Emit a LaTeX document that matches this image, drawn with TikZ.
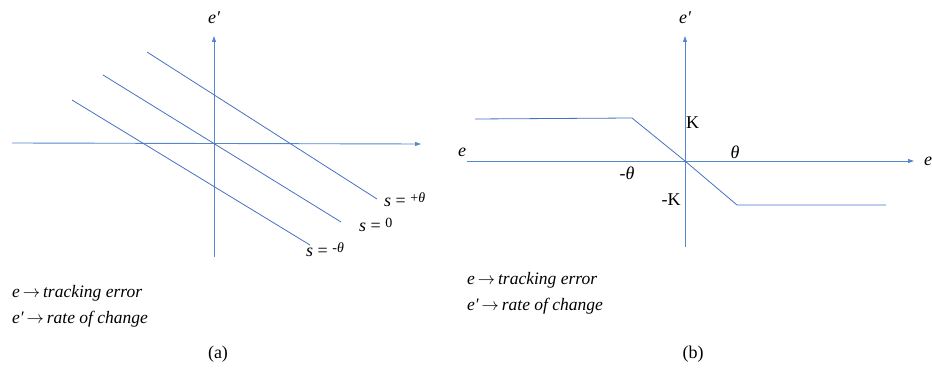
\documentclass[tikz,border=0pt]{standalone}
\usepackage{fontspec}
\setmainfont{Liberation Serif}
\usetikzlibrary{arrows.meta}
\definecolor{axisblue}{RGB}{85,135,205}
\definecolor{lineblue}{RGB}{68,114,196}
\tikzset{
  axis/.style={draw=axisblue, line width=0.9pt, -{Triangle[length=6pt,width=4pt]}},
  sline/.style={draw=lineblue, line width=0.8pt},
  lbl/.style={inner sep=0pt, font=\fontsize{18}{20}\selectfont\itshape},
  rlbl/.style={inner sep=0pt, font=\fontsize{18}{20}\selectfont},
  note/.style={inner sep=0pt, anchor=west, font=\fontsize{17.5}{20}\selectfont\itshape},
}
\newcommand{\supx}[1]{\raisebox{0.6ex}{\fontsize{14}{15}\selectfont #1}}
\newcommand{\myarr}{\,\(\rightarrow\)\,}
\begin{document}
\begin{tikzpicture}[x=1pt,y=-1pt]
\useasboundingbox (0,0) rectangle (932,374);
% ---------- panel (a)
\coordinate (aX0) at (12,143);
\coordinate (aX1) at (421,144);
\coordinate (aY0) at (214,257);
\coordinate (aY1) at (214,36);
\draw[axis] (aX0) -- (aX1);
\draw[axis] (aY0) -- (aY1);
\node[lbl] (aep) at (214,18) {e′};
\coordinate (p1a) at (147,52);  \coordinate (p1b) at (377,199);
\coordinate (p2a) at (103,75);  \coordinate (p2b) at (341,222);
\coordinate (p3a) at (72,100);  \coordinate (p3b) at (310,245);
\draw[sline] (p1a) -- (p1b);
\draw[sline] (p2a) -- (p2b);
\draw[sline] (p3a) -- (p3b);
\node[lbl, anchor=base west] (s1) at (384,207) {s \upshape= \supx{+\itshape θ}};
\node[lbl, anchor=base west] (s2) at (359,232) {s \upshape= \supx{0}};
\node[lbl, anchor=base west] (s3) at (306,257) {s \upshape= \supx{-\itshape θ}};
\node[note] (an1) at (12,293) {e\myarr tracking error};
\node[note] (an2) at (12,319) {e′\myarr rate of change};
\node[rlbl] (acap) at (218,354) {(a)};
% ---------- panel (b)
\coordinate (bX0) at (467,161);
\coordinate (bX1) at (914,161);
\coordinate (bY0) at (685,247);
\coordinate (bY1) at (685,36);
\draw[axis] (bX0) -- (bX1);
\draw[axis] (bY0) -- (bY1);
\node[lbl] (bep) at (685,18) {e′};
\node[lbl] (bel) at (462,152) {e};
\node[lbl, anchor=west] (ber) at (924,161) {e};
\coordinate (c0) at (475,119);
\coordinate (c1) at (632,118);
\coordinate (c2) at (685,161);
\coordinate (c3) at (737,205);
\coordinate (c4) at (886,205);
\draw[sline] (c0) -- (c1) -- (c2) -- (c3) -- (c4);
\node[rlbl, anchor=west] (bK) at (686,123) {K};
\node[lbl] (bth) at (735,152) {θ};
\node[rlbl] (bmth) at (627,173) {-\itshape θ};
\node[rlbl] (bmK) at (671,200) {-K};
\node[note] (bn1) at (467,280) {e\myarr tracking error};
\node[note] (bn2) at (467,306) {e′\myarr rate of change};
\node[rlbl] (bcap) at (693,354) {(b)};
\end{tikzpicture}
\end{document}
